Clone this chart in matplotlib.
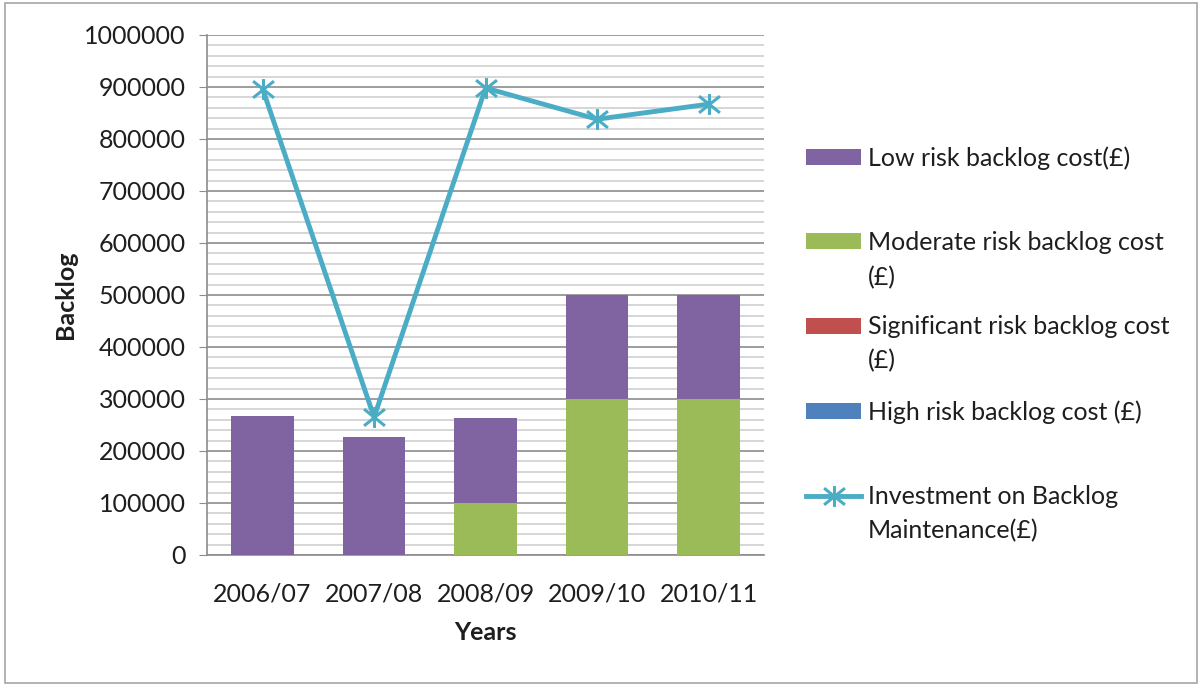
import matplotlib.pyplot as plt
import matplotlib
import numpy as np
from matplotlib.path import Path
from matplotlib.patches import Rectangle
from matplotlib.ticker import FormatStrFormatter

years = ["2006/07", "2007/08", "2008/09", "2009/10", "2010/11"]
high_risk = [0, 0, 0, 0, 0]
significant_risk = [0, 0, 0, 0, 0]
moderate_risk = [0, 0, 100000, 300000, 300000]
low_risk = [268000, 227000, 163000, 200000, 200000]
investment = [897000, 265000, 898000, 838000, 867000]

labels = {
    "low": ["Low risk backlog cost(£)"],
    "moderate": ["Moderate risk backlog cost", "(£)"],
    "significant": ["Significant risk backlog cost", "(£)"],
    "high": ["High risk backlog cost (£)"],
    "investment": ["Investment on Backlog", "Maintenance(£)"],
}

matplotlib.rcParams["font.family"] = ["Lato", "DejaVu Sans"]
text_color = "#1e1e1e"

fig = plt.figure(figsize=(12.02, 6.86), dpi=100)
ax = fig.add_axes([0.172, 0.191, 0.464, 0.758])

x = np.arange(len(years))
w = 0.56
bottom = np.zeros(len(years))
bars = {}
for key, vals, color in [
    ("high", high_risk, "#4F81BD"),
    ("significant", significant_risk, "#C0504D"),
    ("moderate", moderate_risk, "#9BBB59"),
    ("low", low_risk, "#8064A2"),
]:
    bars[key] = ax.bar(x, vals, w, bottom=bottom, color=color, zorder=3)
    bottom += np.array(vals)

star = Path(
    [(0, -1), (0, 1), (-1, -0.8), (1, 0.8), (-1, 0.8), (1, -0.8)],
    [Path.MOVETO, Path.LINETO, Path.MOVETO, Path.LINETO, Path.MOVETO, Path.LINETO],
)
(line,) = ax.plot(x, investment, color="#4BACC6", lw=3.5, marker=star,
                  markersize=15, markeredgewidth=2.2, zorder=4)

ax.set_xlim(-0.5, len(years) - 0.5)
ax.set_ylim(0, 1000000)
ax.set_yticks(np.arange(0, 1000001, 100000))
ax.set_yticks(np.arange(0, 1000001, 20000), minor=True)
ax.yaxis.set_major_formatter(FormatStrFormatter("%d"))
ax.set_xticks(x)
ax.set_xticklabels(years)
ax.grid(axis="y", which="major", color="#8c8c8c", lw=1.2, zorder=0)
ax.grid(axis="y", which="minor", color="#d0d0d0", lw=1.2, zorder=0)
ax.tick_params(axis="y", which="major", length=6, color="#8c8c8c", pad=9,
               labelsize=18, labelcolor=text_color)
ax.tick_params(axis="y", which="minor", length=0)
ax.tick_params(axis="x", length=0, pad=20, labelsize=18, labelcolor=text_color)
for s in ["top", "right"]:
    ax.spines[s].set_visible(False)
for s in ["left", "bottom"]:
    ax.spines[s].set_color("#8c8c8c")
    ax.spines[s].set_linewidth(1.2)

ax.set_ylabel("Backlog", fontsize=18, fontweight="bold", color=text_color, labelpad=5)
ax.set_xlabel("Years", fontsize=18, fontweight="bold", color=text_color, labelpad=11)

# legend entries, one per row like the original layout (pixel rows of first/second line)
rows = [
    ("low", bars["low"], 158, None),
    ("moderate", bars["moderate"], 242, 278),
    ("significant", bars["significant"], 327, 361),
    ("high", bars["high"], 412, None),
    ("investment", line, 497, 531),
]
for key, handle, y1, y2 in rows:
    fig.legend([handle], [labels[key][0]], loc="center left",
               bbox_to_anchor=(806 / 1202, 1 - y1 / 686),
               frameon=False, fontsize=18, borderpad=0, borderaxespad=0,
               handlelength=2.2, handleheight=0.6, handletextpad=0.3,
               labelcolor=text_color)
    if y2 is not None:
        fig.text(868 / 1202, 1 - y2 / 686, labels[key][1], fontsize=18,
                 color=text_color, va="center", ha="left")

fig.patches.append(Rectangle((5 / 1202, 3 / 686), 1192 / 1202, 680 / 686,
                             transform=fig.transFigure, fill=False,
                             edgecolor="#a6a6a6", lw=1.2))

fig.savefig("out.png", dpi=100)
